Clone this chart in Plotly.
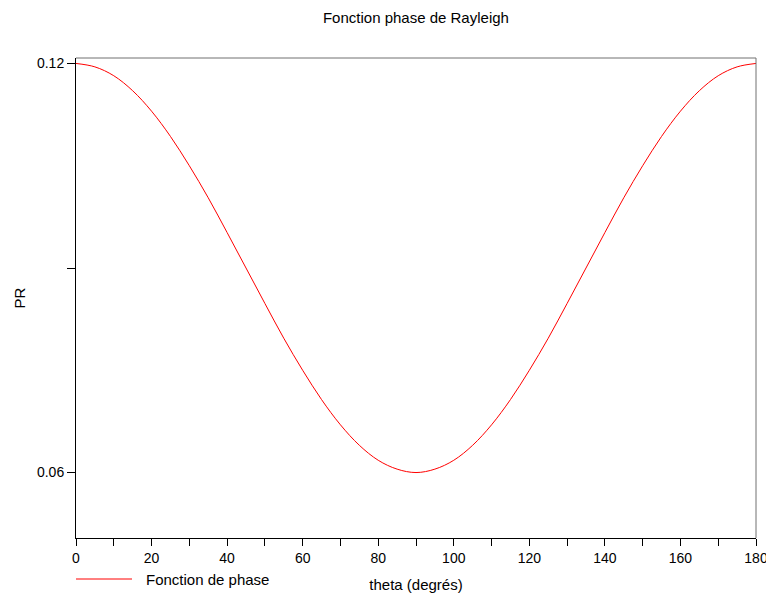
import plotly.graph_objects as go

theta = list(range(0, 181, 5))
pr = [0.1200, 0.1195, 0.1182, 0.1160, 0.1130, 0.1093, 0.1050, 0.1003, 0.0952,
      0.0900, 0.0848, 0.0797, 0.0750, 0.0707, 0.0670, 0.0640, 0.0618, 0.0605,
      0.0600,
      0.0605, 0.0618, 0.0640, 0.0670, 0.0707, 0.0750, 0.0797, 0.0848, 0.0900,
      0.0952, 0.1003, 0.1050, 0.1093, 0.1130, 0.1160, 0.1182, 0.1195, 0.1200]

x_ticks = list(range(0, 181, 20))
x_minor = list(range(10, 180, 20))
y_ticks = [0.06, 0.09, 0.12]
y_ticktext = ["0.06", "", "0.12"]

FONT = "Liberation Sans, Arial, sans-serif"

fig = go.Figure()
fig.add_trace(go.Scatter(x=theta, y=pr, mode="lines", name="Fonction de phase",
                         line=dict(color="#ff0000", width=1, shape="spline"),
                         showlegend=False))

fig.update_layout(
    width=766, height=599,
    margin=dict(l=76, r=10, t=58, b=61),
    paper_bgcolor="white", plot_bgcolor="white",
    font=dict(family=FONT, size=14, color="black"),
    title=dict(text="Fonction phase de Rayleigh", x=0.543, xanchor="center",
               y=1 - 18 / 599, yanchor="middle", font=dict(size=15)),
    xaxis=dict(range=[-0.0001, 180.0001], tickmode="array", tickvals=x_ticks,
               ticks="outside", ticklen=7, ticklabeloverflow="allow",
               tickcolor="black", showline=True, linecolor="black", linewidth=1,
               showgrid=False, zeroline=False, automargin=False,
               tickfont=dict(size=14),
               minor=dict(tickmode="array", tickvals=x_minor, ticks="outside",
                          ticklen=7, tickcolor="black"),
               title=dict(text="theta (degrés)", standoff=14, font=dict(size=15))),
    yaxis=dict(range=[0.0504, 0.1208], tickvals=y_ticks, ticktext=y_ticktext,
               ticks="outside", ticklen=8, tickcolor="black", showline=True,
               linecolor="black", linewidth=1, showgrid=False, zeroline=False,
               automargin=False, tickfont=dict(size=14),
               title=dict(text="PR", standoff=7, font=dict(size=15))),
    shapes=[
        dict(type="line", xref="paper", yref="paper", x0=0, x1=1, y0=1, y1=1,
             line=dict(color="#707070", width=1)),
        dict(type="line", xref="paper", yref="paper", x0=1, x1=1, y0=0, y1=1,
             line=dict(color="#707070", width=1)),
        dict(type="line", xref="paper", yref="paper", x0=0, x1=56 / 680,
             y0=-41 / 480, y1=-41 / 480, line=dict(color="#ff0000", width=1)),
    ],
    annotations=[
        dict(text="Fonction de phase", xref="paper", yref="paper",
             x=68 / 680, y=-41 / 480, xanchor="left", yanchor="middle",
             showarrow=False, font=dict(size=15)),
    ],
)

fig.write_html("out.html")
